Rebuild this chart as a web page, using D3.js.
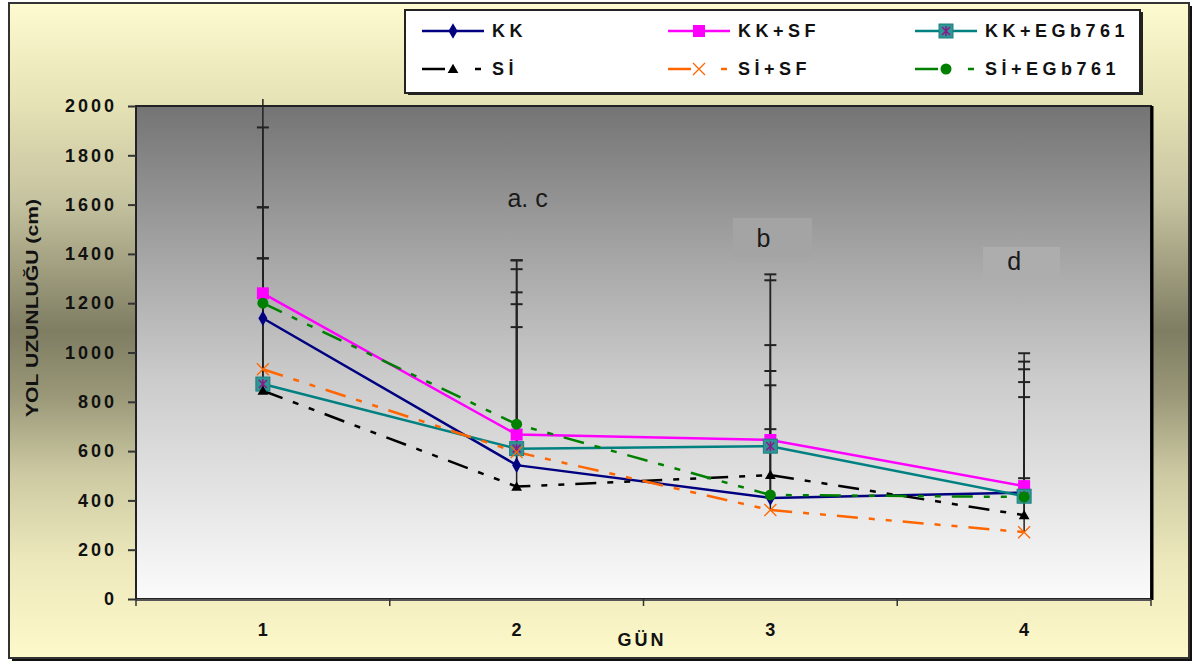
<!DOCTYPE html>
<html>
<head>
<meta charset="utf-8">
<script src="https://cdn.jsdelivr.net/npm/d3@7"></script>
<style>
  body { margin: 0; background: #fff; }
  svg { display: block; font-family: "Liberation Sans", Arial, sans-serif; }
</style>
</head>
<body>
<svg id="chart" width="1194" height="664"></svg>
<script>
// data
var days = [1, 2, 3, 4];
var seriesNames = ["KK", "KK+SF", "KK+EGb761", "Sİ", "Sİ+SF", "Sİ+EGb761"];
var kk      = [1139, 543, 410, 432];
var kkSf    = [1240, 667, 645, 458];
var kkEgb   = [872, 610, 620, 417];
var si      = [845, 456, 503, 340];
var siSf    = [932, 596, 361, 271];
var siEgb   = [1200, 709, 422, 414];
// upper error bars (SD)
var kkSd    = [450, 701, 515, 531];
var kkSfSd  = [820, 707, 672, 539];
var kkEgbSd = [510, 586, 673, 515];
var siSd    = [744, 918, 527, 479];
var siSfSd  = [450, 507, 328, 219];
var siEgbSd = [713, 629, 445, 466];
var yTicks  = [0, 200, 400, 600, 800, 1000, 1200, 1400, 1600, 1800, 2000];
var noteDays   = [2, 3, 4];
var noteTexts  = ["a. c", "b", "d"];
var noteLevels = [1627, 1465, 1371];

(function() {
var svg = d3.select("#chart");
var pLeft = 136, pRight = 1151, pTop = 106, pBottom = 599;

var x = d3.scaleBand().domain(days).range([pLeft, pRight]);
var cx = function(d) { return x(d) + x.bandwidth() / 2; };
var y = d3.scaleLinear().domain([0, 2000]).range([pBottom, pTop]);

var dashed = "21,11,6,11,6,11";
var series = [
  {name: seriesNames[0], vals: kk,    sd: kkSd,    color: "#000080", dash: null, mark: "diamond"},
  {name: seriesNames[1], vals: kkSf,  sd: kkSfSd,  color: "#ff00ff", dash: null, mark: "square"},
  {name: seriesNames[2], vals: kkEgb, sd: kkEgbSd, color: "#008080", dash: null, mark: "tealsq"},
  {name: seriesNames[3], vals: si,    sd: siSd,    color: "#000000", dash: dashed, mark: "triangle"},
  {name: seriesNames[4], vals: siSf,  sd: siSfSd,  color: "#ff6600", dash: dashed, mark: "x"},
  {name: seriesNames[5], vals: siEgb, sd: siEgbSd, color: "#008000", dash: dashed, mark: "circle"}
];

var defs = svg.append("defs");
var bg = defs.append("linearGradient").attr("id", "khaki").attr("x1", 0).attr("y1", 0).attr("x2", 0).attr("y2", 1);
[[0, "#fdfbcf"], [0.15, "#e6e3b6"], [0.3, "#c6c3a0"], [0.5, "#7f7d62"], [0.6, "#9a9878"],
 [0.72, "#cdcaa3"], [0.85, "#ece8bb"], [1, "#fdf9ca"]].forEach(function(s) {
  bg.append("stop").attr("offset", s[0]).attr("stop-color", s[1]);
});
var pg = defs.append("linearGradient").attr("id", "plotbg").attr("x1", 0).attr("y1", 0).attr("x2", 0).attr("y2", 1);
[[0, "#747474"], [0.27, "#a0a0a0"], [0.55, "#cbcbcb"], [0.75, "#e0e0e0"], [1, "#fbfbfb"]].forEach(function(s) {
  pg.append("stop").attr("offset", s[0]).attr("stop-color", s[1]);
});
defs.append("clipPath").attr("id", "errclip").append("rect")
  .attr("x", pLeft - 10).attr("y", pTop - 7).attr("width", pRight - pLeft + 20).attr("height", pBottom - pTop + 7);

// outer frame
svg.append("rect").attr("x", 12).attr("y", 6).attr("width", 1180).attr("height", 655).attr("fill", "#111");
svg.append("rect").attr("x", 9).attr("y", 3).attr("width", 1180).attr("height", 655)
  .attr("fill", "url(#khaki)").attr("stroke", "#333").attr("stroke-width", 2);

// plot area
svg.append("rect").attr("x", pLeft).attr("y", pTop).attr("width", pRight - pLeft).attr("height", pBottom - pTop)
  .attr("fill", "url(#plotbg)").attr("stroke", "#222").attr("stroke-width", 2);
svg.append("line").attr("x1", pRight + 1).attr("x2", pRight + 1).attr("y1", pTop).attr("y2", pBottom + 1)
  .attr("stroke", "#000").attr("stroke-width", 3);
svg.append("line").attr("x1", pLeft).attr("x2", pRight).attr("y1", pBottom + 1).attr("y2", pBottom + 1)
  .attr("stroke", "#555").attr("stroke-width", 2);

// y axis
var yAxis = svg.append("g").attr("transform", "translate(" + pLeft + ",0)")
  .call(d3.axisLeft(y).tickValues(yTicks).tickSize(8).tickPadding(14).tickFormat(d3.format("d")));
yAxis.select(".domain").remove();
yAxis.selectAll(".tick line").attr("stroke", "#333").attr("stroke-width", 2);
yAxis.selectAll(".tick text").attr("fill", "#111").attr("font-size", 18).attr("font-weight", "bold")
  .attr("letter-spacing", 3).attr("dx", 3).attr("font-family", "Liberation Sans, Arial, sans-serif");

// x axis (category ticks at band edges)
var xEdges = days.map(function(d) { return x(d); }).concat([pRight]);
svg.append("g").selectAll("line").data(xEdges).enter().append("line")
  .attr("x1", function(d) { return d; }).attr("x2", function(d) { return d; })
  .attr("y1", pBottom).attr("y2", pBottom + 7).attr("stroke", "#333").attr("stroke-width", 1.5);
svg.append("g").selectAll("text").data(days).enter().append("text")
  .attr("x", cx).attr("y", 630).attr("dy", "0.35em").attr("text-anchor", "middle")
  .attr("font-size", 18).attr("font-weight", "bold").attr("fill", "#111")
  .text(function(d) { return d; });

svg.append("text").attr("x", 642).attr("y", 640).attr("dy", "0.35em").attr("text-anchor", "middle")
  .attr("font-size", 18).attr("font-weight", "bold").attr("letter-spacing", 3).attr("fill", "#111").text("GÜN");
svg.append("text").attr("transform", "translate(38,308) rotate(-90)").attr("text-anchor", "middle")
  .attr("font-size", 16).attr("font-weight", "bold").attr("fill", "#111")
  .attr("textLength", 218).attr("lengthAdjust", "spacingAndGlyphs")
  .text("YOL UZUNLUĞU (cm)");

// faint text-box backgrounds behind b and d
svg.append("rect").attr("x", 733).attr("y", 218).attr("width", 79).attr("height", 39).attr("fill", "#a4a4a4");
svg.append("rect").attr("x", 983).attr("y", 247).attr("width", 77).attr("height", 33).attr("fill", "#adadad");

// notes
var noteOffsets = [11, -7, -10];
svg.append("g").selectAll("text").data(noteDays).enter().append("text")
  .attr("x", function(d, i) { return cx(d) + noteOffsets[i]; })
  .attr("y", function(d, i) { return y(noteLevels[i]); })
  .attr("dy", "0.35em").attr("text-anchor", "middle").attr("font-size", 25).attr("fill", "#1a1a1a")
  .text(function(d, i) { return noteTexts[i]; });

// error bars
var eg = svg.append("g").attr("clip-path", "url(#errclip)");
series.forEach(function(s) {
  days.forEach(function(d, i) {
    var xx = cx(d), y0 = y(s.vals[i]), y1 = y(s.vals[i] + s.sd[i]);
    eg.append("line").attr("x1", xx).attr("x2", xx).attr("y1", y0).attr("y2", y1)
      .attr("stroke", "#222").attr("stroke-width", 1.5);
    eg.append("line").attr("x1", xx - 6).attr("x2", xx + 6).attr("y1", y1).attr("y2", y1)
      .attr("stroke", "#222").attr("stroke-width", 2);
  });
});

// lines
var line = d3.line().x(function(d, i) { return cx(days[i]); }).y(function(d) { return y(d); });
series.forEach(function(s) {
  svg.append("path").datum(s.vals).attr("d", line).attr("fill", "none")
    .attr("stroke", s.color).attr("stroke-width", 2.5)
    .attr("stroke-dasharray", s.dash);
});

function drawMarker(g, kind, color, px, py) {
  if (kind === "diamond") {
    g.append("path").attr("d", d3.symbol(d3.symbolDiamond, 70)()).attr("transform", "translate(" + px + "," + py + ")").attr("fill", color);
  } else if (kind === "square") {
    g.append("rect").attr("x", px - 6).attr("y", py - 6).attr("width", 12).attr("height", 12).attr("fill", color);
  } else if (kind === "tealsq") {
    g.append("rect").attr("x", px - 7).attr("y", py - 7).attr("width", 14).attr("height", 14)
      .attr("fill", "#2f9595").attr("stroke", "#1f7f7f").attr("stroke-width", 1);
    g.append("path").attr("d", "M" + (px - 4) + "," + (py - 4) + "L" + (px + 4) + "," + (py + 4) +
      "M" + (px + 4) + "," + (py - 4) + "L" + (px - 4) + "," + (py + 4) + "M" + px + "," + (py - 5) + "L" + px + "," + (py + 5))
      .attr("stroke", "#8a1a8a").attr("stroke-width", 1.5);
  } else if (kind === "triangle") {
    g.append("path").attr("d", d3.symbol(d3.symbolTriangle, 50)()).attr("transform", "translate(" + px + "," + (py + 1) + ")").attr("fill", color);
  } else if (kind === "circle") {
    g.append("circle").attr("cx", px).attr("cy", py).attr("r", 5.5).attr("fill", color);
  } else if (kind === "x") {
    g.append("path").attr("d", "M" + (px - 6) + "," + (py - 6) + "L" + (px + 6) + "," + (py + 6) +
      "M" + (px + 6) + "," + (py - 6) + "L" + (px - 6) + "," + (py + 6))
      .attr("stroke", color).attr("stroke-width", 1.3).attr("fill", "none");
  }
}

// markers
var mg = svg.append("g");
series.forEach(function(s) {
  s.vals.forEach(function(v, i) { drawMarker(mg, s.mark, s.color, cx(days[i]), y(v)); });
});

// legend
var lg = svg.append("g");
lg.append("rect").attr("x", 408).attr("y", 12).attr("width", 735).attr("height", 83).attr("fill", "#222");
lg.append("rect").attr("x", 405).attr("y", 10).attr("width", 735).attr("height", 83)
  .attr("fill", "#fff").attr("stroke", "#222").attr("stroke-width", 2);
var legCols = [422, 668, 915], legRows = [31, 69];
series.forEach(function(s, i) {
  var lx = legCols[i % 3], ly = legRows[Math.floor(i / 3)];
  lg.append("line").attr("x1", lx).attr("x2", lx + 62).attr("y1", ly).attr("y2", ly)
    .attr("stroke", s.color).attr("stroke-width", 2.5)
    .attr("stroke-dasharray", s.dash ? "23,30,6,20" : null);
  drawMarker(lg, s.mark, s.color, lx + 31, ly);
  lg.append("text").attr("x", lx + 70).attr("y", ly).attr("dy", "0.36em")
    .attr("font-size", 18).attr("font-weight", "bold").attr("letter-spacing", 4.5).attr("fill", "#111")
    .text(s.name);
});
})();
</script>
</body>
</html>
